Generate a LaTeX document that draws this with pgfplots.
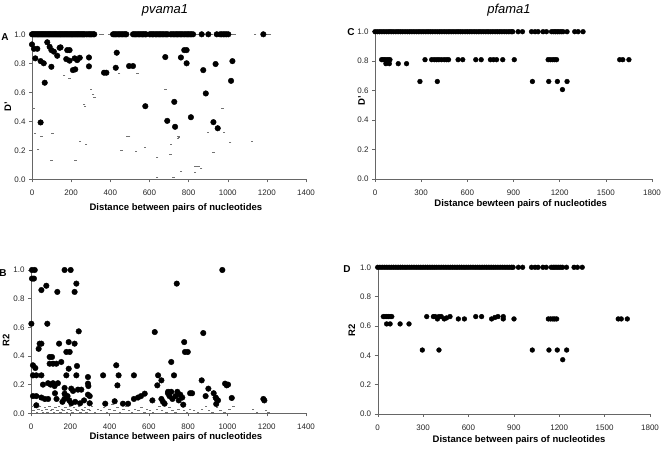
\documentclass[border=0pt]{standalone}
\usepackage{fontspec}
\setmainfont{Liberation Sans}
\usepackage{pgfplots}
\pgfplotsset{compat=1.18}
\pgfplotsset{
  panel/.style={
    scale only axis,
    axis lines=left,
    axis line style={black!60,-},
    ymin=0, ymax=1,
    ytick={0,0.2,0.4,0.6,0.8,1},
    yticklabel style={/pgf/number format/.cd, fixed, fixed zerofill, precision=1},
    xticklabel style={/pgf/number format/1000 sep={}, yshift=-4.5pt},
    tick align=outside,
    major tick length=3pt,
    tick style={black!60, line width=0.4pt},
    tick label style={font=\fontsize{8}{9}\selectfont, text=black!85},
    /pgf/number format/assume math mode=true,
    label style={font=\bfseries\fontsize{9.5}{11}\selectfont},
    clip=false,
    anchor=south west,
  },
  bigdot/.style={only marks, mark=*, mark size=2.8pt, black, mark options={fill=black, draw=black}},
  meddot/.style={only marks, mark=*, mark size=2.4pt, black, mark options={fill=black, draw=black}},
  dash/.style={only marks, mark=-, mark size=1.2pt, black!55, mark options={line width=0.4pt}},
}
\begin{document}
\begin{tikzpicture}
\path[use as bounding box] (0,0) rectangle (661pt,449pt);
% ---------------- Panel A ----------------
\begin{axis}[panel, at={(32pt,269.7pt)}, width=274pt, height=145pt,
  xmin=0, xmax=1400, xtick={0,200,400,600,800,1000,1200,1400},
  xlabel={Distance between pairs of nucleotides}, ylabel={D'},
  xlabel style={at={(axis description cs:0.525,-0.2)}, anchor=center},
  ylabel style={at={(axis description cs:-0.088,0.5)}, anchor=center}]
\addplot[dash] coordinates {(346,1)(355,1)(363,1)(397,1)(840,1)(850,1)(880,1)(920,1)(1015,1)(1025,1)(1037,1)(1140,1)(1200,1)(1210,1)(1216,1)
(165,0.717)(191,0.694)(300,0.624)(313,0.588)(318,0.565)(322,0.565)(266,0.52)(271,0.505)(7,0.49)(15,0.32)(49,0.30)(104,0.32)(32,0.205)(100,0.131)(223,0.131)(245,0.263)(276,0.242)(484,0.297)(490,0.297)(496,0.297)(458,0.198)(531,0.196)(576,0.221)(446,0.733)(540,0.733)(683,0.624)(640,0.154)(640,0.014)(709,0.242)(722,0.016)(707,0.173)(748,0.30)(750,0.29)(746,0.28)(761,0.055)(836,0.09)(850,0.09)(864,0.074)(833,0.05)(898,0.323)(927,0.185)(973,0.489)(981,0.323)(1012,0.258)(1123,0.263)};
\addplot[bigdot] coordinates {(0,1)(5,1)(10,1)(15,1)(20,1)(25,1)(30,1)(35,1)(40,1)(45,1)(50,1)(55,1)(60,1)(65,1)(70,1)(75,1)(80,1)(85,1)(90,1)(95,1)(100,1)(105,1)(110,1)(115,1)(120,1)(125,1)(130,1)(135,1)(140,1)(145,1)(150,1)(155,1)(160,1)(165,1)(170,1)(175,1)(180,1)(185,1)(190,1)(195,1)(200,1)(205,1)(210,1)(215,1)(220,1)(225,1)(230,1)(235,1)(240,1)(245,1)(250,1)(255,1)(260,1)(265,1)(270,1)(278,1)(286,1)(292,1)(298,1)(305,1)(312,1)(318,1)
(414,1)(420,1)(427,1)(434,1)(441,1)(448,1)(455,1)(462,1)(470,1)(476,1)(482,1)
(516,1)(522,1)(529,1)(536,1)(543,1)(550,1)(557,1)(564,1)(571,1)(578,1)(583,1)
(601,1)(608,1)(615,1)(622,1)(630,1)(637,1)(644,1)(651,1)(658,1)(665,1)(672,1)(680,1)(687,1)(694,1)(708,1)(715,1)(722,1)(730,1)(737,1)(744,1)(751,1)(758,1)(765,1)(772,1)(780,1)(787,1)(794,1)(801,1)(808,1)(815,1)(823,1)
(867,1)(901,1)(944,1)(961,1)(969,1)(978,1)(986,1)(994,1)(1003,1)(1182,1)
(0,0.93)(10,0.90)(27,0.90)(17,0.834)(44,0.815)(60,0.80)(65,0.666)(44,0.392)(78,0.945)(90,0.914)(99,0.891)(112,0.88)(129,0.852)(99,0.776)(141,0.907)(146,0.91)(180,0.891)(192,0.891)(175,0.829)(192,0.818)(218,0.834)(231,0.822)(244,0.838)(209,0.753)(221,0.758)(291,0.84)(291,0.779)(368,0.735)(380,0.735)(433,0.873)(428,0.769)(496,0.781)(516,0.781)(579,0.504)(681,0.843)(691,0.403)
(778,0.891)(790,0.891)(761,0.84)(790,0.80)(875,0.753)(938,0.795)(1024,0.815)(1017,0.679)(888,0.592)(727,0.534)(731,0.362)(812,0.428)(927,0.394)(949,0.352)};
\end{axis}
% ---------------- Panel B ----------------
\begin{axis}[panel, at={(31pt,35.7pt)}, width=275pt, height=143.3pt,
  xmin=0, xmax=1400, xtick={0,200,400,600,800,1000,1200,1400},
  xlabel={Distance between pairs of nucleotides}, ylabel={R2},
  xlabel style={at={(axis description cs:0.527,-0.165)}, anchor=center},
  ylabel style={at={(axis description cs:-0.091,0.51)}, anchor=center}]
\addplot[dash] coordinates {(5,0.05)(12,0.02)(20,0.04)(30,0.01)(38,0.03)(45,0.05)(55,0.02)(62,0.01)(70,0.04)(78,0.03)(85,0.01)(95,0.05)(102,0.02)(110,0.03)(118,0.01)(125,0.04)(135,0.02)(142,0.05)(150,0.01)(158,0.03)(165,0.02)(175,0.04)(182,0.01)(190,0.03)(198,0.05)(205,0.02)(212,0.01)(220,0.04)(228,0.03)(236,0.02)(245,0.05)(252,0.01)(260,0.03)(268,0.02)(275,0.04)(283,0.01)(292,0.03)(300,0.02)(310,0.05)(325,0.01)(340,0.03)(355,0.02)(372,0.04)(388,0.01)(400,0.03)(415,0.06)(425,0.02)(440,0.04)(452,0.01)(470,0.03)(485,0.05)(500,0.02)(515,0.01)(530,0.03)(548,0.02)(562,0.04)(578,0.01)(590,0.03)(605,0.02)(620,0.01)(640,0.03)(655,0.05)(668,0.02)(690,0.01)(705,0.04)(720,0.02)(735,0.01)(750,0.03)(768,0.05)(780,0.02)(795,0.01)(810,0.03)(830,0.02)(850,0.01)(870,0.03)(890,0.05)(905,0.02)(925,0.01)(948,0.04)(965,0.02)(985,0.01)(1010,0.03)(1030,0.05)(1130,0.03)(1150,0.01)(1195,0.02)(1210,0.01)};
\addplot[bigdot] coordinates {(5,1)(19,1)(5,0.94)(15,0.94)(53,0.86)(78,0.89)(134,0.847)(171,1)(202,1)(222,0.847)(231,0.905)(2,0.625)(83,0.625)(243,0.572)(44,0.486)(53,0.486)(39,0.45)(143,0.486)(192,0.497)(222,0.486)(180,0.428)(197,0.428)(95,0.393)(107,0.393)(10,0.335)(22,0.316)(95,0.346)(112,0.346)(129,0.346)(154,0.358)(192,0.311)(234,0.33)(10,0.265)(27,0.265)(53,0.265)(180,0.265)(231,0.265)(290,0.253)(290,0.207)(292,0.19)(61,0.20)(87,0.21)(112,0.21)(137,0.21)(100,0.20)(120,0.19)(171,0.177)(171,0.137)(205,0.172)(214,0.156)(239,0.165)(256,0.165)(290,0.13)(299,0.12)(10,0.12)(27,0.12)(53,0.11)(70,0.10)(87,0.10)(122,0.14)(130,0.10)(160,0.08)(170,0.10)(186,0.12)(195,0.09)(205,0.07)(225,0.08)(250,0.07)(270,0.09)(299,0.07)(27,0.056)(367,0.265)(378,0.067)(434,0.335)(446,0.265)(440,0.195)(426,0.084)(468,0.067)(494,0.067)(524,0.265)(524,0.10)(545,0.11)(579,0.137)(560,0.12)(618,0.09)(630,0.567)(647,0.265)(643,0.195)(664,0.23)(664,0.10)(672,0.08)(680,0.067)(698,0.15)(714,0.15)(714,0.358)(974,1)(742,0.905)(877,0.56)(780,0.497)(784,0.428)(798,0.428)(728,0.265)(869,0.23)(988,0.207)(996,0.195)(1003,0.2)(903,0.172)(697,0.14)(705,0.12)(720,0.10)(736,0.12)(745,0.15)(752,0.09)(760,0.13)(770,0.11)(775,0.06)(810,0.14)(820,0.14)(889,0.12)(930,0.14)(940,0.11)(945,0.10)(943,0.065)(952,0.09)(1022,0.107)(1183,0.10)(1188,0.09)};
\end{axis}
% ---------------- Panel C ----------------
\begin{axis}[panel, at={(375pt,270pt)}, width=277pt, height=147.3pt,
  xmin=0, xmax=1800, xtick={0,300,600,900,1200,1500,1800},
  xlabel={Distance bewteen pairs of nucleotides}, ylabel={D'},
  xlabel style={at={(axis description cs:0.526,-0.17)}, anchor=center},
  ylabel style={at={(axis description cs:-0.048,0.53)}, anchor=center}]
\addplot[meddot] coordinates {(0,1)(15,1)(30,1)(45,1)(60,1)(75,1)(90,1)(105,1)(120,1)(135,1)(150,1)(165,1)(180,1)(195,1)(210,1)(225,1)(240,1)(255,1)(270,1)(285,1)(300,1)(315,1)(330,1)(345,1)(360,1)(375,1)(390,1)(405,1)(420,1)(435,1)(450,1)(465,1)(480,1)(495,1)(510,1)(525,1)(540,1)(555,1)(570,1)(585,1)(600,1)(615,1)(630,1)(645,1)(660,1)(675,1)(690,1)(705,1)(720,1)(735,1)(750,1)(765,1)(780,1)(795,1)(810,1)(825,1)(840,1)(855,1)(870,1)(885,1)(895,1)
(930,1)(958,1)(1017,1)(1040,1)(1060,1)(1092,1)(1114,1)(1147,1)(1160,1)(1172,1)(1185,1)(1197,1)(1210,1)(1222,1)(1248,1)(1298,1)(1320,1)(1352,1)
(43,0.81)(53,0.81)(63,0.81)(75,0.81)(86,0.81)(97,0.81)(325,0.81)(368,0.81)(385,0.81)(400,0.81)(415,0.81)(432,0.81)(450,0.81)(465,0.81)(478,0.81)(540,0.81)(570,0.81)(655,0.81)(690,0.81)(750,0.81)(770,0.81)(790,0.81)(830,0.81)(905,0.81)(1125,0.81)(1140,0.81)(1155,0.81)(1168,0.81)(1180,0.81)(1590,0.81)(1610,0.81)(1650,0.81)
(71,0.783)(93,0.783)(151,0.783)(205,0.783)
(292,0.662)(405,0.662)(1023,0.662)(1129,0.662)(1185,0.662)(1248,0.662)
(1218,0.607)};
\end{axis}
% ---------------- Panel D ----------------
\begin{axis}[panel, at={(377.7pt,35pt)}, width=272.3pt, height=146.7pt,
  xmin=0, xmax=1800, xtick={0,300,600,900,1200,1500,1800},
  xlabel={Distance between pairs of nucleotides}, ylabel={R2},
  xlabel style={at={(axis description cs:0.519,-0.177)}, anchor=center},
  ylabel style={at={(axis description cs:-0.095,0.57)}, anchor=center}]
\addplot[meddot] coordinates {(0,1)(15,1)(30,1)(45,1)(60,1)(75,1)(90,1)(105,1)(120,1)(135,1)(150,1)(165,1)(180,1)(195,1)(210,1)(225,1)(240,1)(255,1)(270,1)(285,1)(300,1)(315,1)(330,1)(345,1)(360,1)(375,1)(390,1)(405,1)(420,1)(435,1)(450,1)(465,1)(480,1)(495,1)(510,1)(525,1)(540,1)(555,1)(570,1)(585,1)(600,1)(615,1)(630,1)(645,1)(660,1)(675,1)(690,1)(705,1)(720,1)(735,1)(750,1)(765,1)(780,1)(795,1)(810,1)(825,1)(840,1)(855,1)(870,1)(885,1)(895,1)
(930,1)(958,1)(1017,1)(1040,1)(1060,1)(1092,1)(1114,1)(1147,1)(1160,1)(1172,1)(1185,1)(1197,1)(1210,1)(1222,1)(1248,1)(1298,1)(1320,1)(1352,1)
(37,0.664)(48,0.664)(60,0.664)(70,0.664)(82,0.664)(93,0.664)(324,0.664)(368,0.664)(380,0.664)(395,0.648)(405,0.664)(420,0.664)(440,0.648)(455,0.655)(478,0.664)(533,0.648)(573,0.648)(648,0.664)(687,0.664)(753,0.648)(775,0.658)(795,0.664)(830,0.648)(830,0.664)(901,0.648)(1128,0.648)(1143,0.648)(1158,0.648)(1170,0.648)(1183,0.648)(1590,0.648)(1610,0.648)(1650,0.648)
(59,0.614)(82,0.614)(148,0.614)(207,0.614)
(295,0.436)(405,0.436)(1022,0.436)(1132,0.436)(1187,0.436)(1249,0.436)
(1223,0.37)};
\end{axis}
% titles and panel letters
\node[font=\itshape\fontsize{13}{15}\selectfont] at (165pt,439pt) {pvama1};
\node[font=\itshape\fontsize{13}{15}\selectfont] at (509pt,439pt) {pfama1};
\node[font=\bfseries\fontsize{10}{12}\selectfont] at (5pt,412pt) {A};
\node[font=\bfseries\fontsize{10}{12}\selectfont] at (3pt,176pt) {B};
\node[font=\bfseries\fontsize{10}{12}\selectfont] at (351pt,417pt) {C};
\node[font=\bfseries\fontsize{10}{12}\selectfont] at (347pt,180pt) {D};
\end{tikzpicture}
\end{document}
